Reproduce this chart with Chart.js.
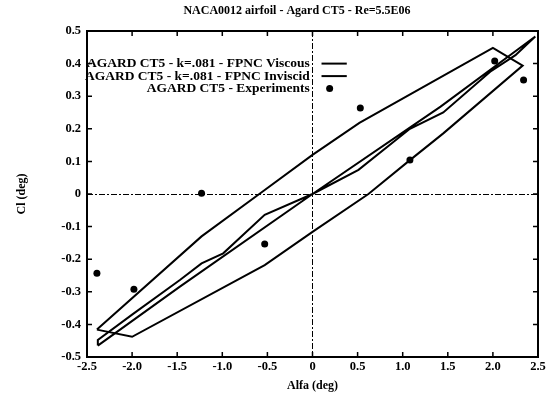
<!DOCTYPE html>
<html>
<head>
<meta charset="utf-8">
<title>NACA0012 airfoil - Agard CT5</title>
<script src="https://cdn.jsdelivr.net/npm/chart.js@4.4.1/dist/chart.umd.min.js"></script>
<style>
  html, body { margin: 0; padding: 0; background: #fff; }
  #wrap { width: 549px; height: 398px; position: relative; }
</style>
</head>
<body>
<div id="wrap"><canvas id="myCanvas"></canvas></div>
<script>
'use strict';

//Values, one closed loop per FPNC run
let viscousAlfa = [-2.39, -1.23, -0.59, 0, 0.52, 2.0, 2.33, 1.45, 1.08, 0.62, 0, -0.53, -2.0, -2.39];
let viscousCl = [-0.416, -0.13, 0.0, 0.12, 0.218, 0.448, 0.394, 0.186, 0.104, 0.0, -0.116, -0.218, -0.438, -0.416];

let inviscidAlfa = [-2.38, -1.47, 0, 1.42, 2.47, 2.25, 1.97, 1.45, 1.08, 0.51, 0, -0.53, -0.99, -1.23, -1.47, -2.0, -2.38, -2.38];
let inviscidCl = [-0.465, -0.284, 0, 0.268, 0.483, 0.426, 0.375, 0.25, 0.2, 0.074, 0, -0.064, -0.182, -0.213, -0.264, -0.37, -0.448, -0.465];

let expAlfa = [-2.39, -1.98, -1.23, -0.53, 0.53, 1.08, 2.02, 2.34];
let expCl = [-0.243, -0.292, 0.002, -0.153, 0.264, 0.104, 0.408, 0.35];

let seriesNames = ['AGARD CT5 - k=.081 - FPNC Viscous', 'AGARD CT5 - k=.081 - FPNC Inviscid', 'AGARD CT5 - Experiments'];
let chartTitle = 'NACA0012 airfoil - Agard CT5 - Re=5.5E06';
let xTitle = 'Alfa (deg)';
let yTitle = 'Cl (deg)';
let xMin = -2.5, xMax = 2.5, xStep = 0.5;
let yMin = -0.5, yMax = 0.5, yStep = 0.1;

const serif = '"Liberation Serif", "DejaVu Serif", serif';

//zip two arrays into {x, y} points for the scatter datasets
function toPoints(xs, ys) {
  let pts = [];
  for (let i = 0; i < xs.length; i++) {
    pts.push({x: xs[i], y: ys[i]});
  }
  return pts;
}

//Frame, inward ticks on all four sides, the title and the legend inside the plot
const decorPlugin = {
  id: 'decor',
  afterDraw(chart) {
    const ctx = chart.ctx;
    const a = chart.chartArea;
    const xs = chart.scales.x;
    const ys = chart.scales.y;
    ctx.save();
    ctx.strokeStyle = '#000';
    ctx.lineWidth = 2;
    ctx.strokeRect(a.left, a.top, a.right - a.left, a.bottom - a.top);

    ctx.lineWidth = 1.5;
    ctx.beginPath();
    xs.ticks.forEach(t => {
      let px = xs.getPixelForValue(t.value);
      ctx.moveTo(px, a.bottom); ctx.lineTo(px, a.bottom - 5);
      ctx.moveTo(px, a.top); ctx.lineTo(px, a.top + 5);
    });
    ys.ticks.forEach(t => {
      let py = ys.getPixelForValue(t.value);
      ctx.moveTo(a.left, py); ctx.lineTo(a.left + 5, py);
      ctx.moveTo(a.right, py); ctx.lineTo(a.right - 5, py);
    });
    ctx.stroke();

    //title sits a bit left of the plot centre in the original
    ctx.fillStyle = '#000';
    ctx.font = 'bold 12px ' + serif;
    ctx.textAlign = 'center';
    ctx.textBaseline = 'middle';
    ctx.fillText(chartTitle, 297, 11);

    //legend: text right aligned, sample to its right
    let textRight = xs.getPixelForValue(-0.03);
    let sampleLeft = xs.getPixelForValue(0.1);
    let sampleRight = xs.getPixelForValue(0.38);
    ctx.font = 'bold 13.5px ' + serif;
    ctx.textAlign = 'right';
    chart.data.datasets.forEach((ds, i) => {
      let rowY = ys.getPixelForValue(0.4) + i * 12.5;
      ctx.fillText(ds.label, textRight, rowY);
      if (ds.showLine) {
        ctx.lineWidth = 2;
        ctx.beginPath();
        ctx.moveTo(sampleLeft, rowY);
        ctx.lineTo(sampleRight, rowY);
        ctx.stroke();
      } else {
        ctx.beginPath();
        ctx.arc(xs.getPixelForValue(0.19), rowY, 3.5, 0, Math.PI * 2);
        ctx.fill();
      }
    });
    ctx.restore();
  }
};

function renderChart() {
  const data = {
    datasets: [{
      label: seriesNames[0],
      data: toPoints(viscousAlfa, viscousCl),
      showLine: true,
      borderColor: '#000',
      borderWidth: 2,
      pointRadius: 0,
      tension: 0
    },
    {
      label: seriesNames[1],
      data: toPoints(inviscidAlfa, inviscidCl),
      showLine: true,
      borderColor: '#000',
      borderWidth: 2,
      pointRadius: 0,
      tension: 0
    },
    {
      label: seriesNames[2],
      data: toPoints(expAlfa, expCl),
      showLine: false,
      backgroundColor: '#000',
      borderColor: '#000',
      pointRadius: 3.5,
      pointBorderWidth: 0
    }]
  };

  //only the zero line of each axis is drawn, dash-dot like the original
  const zeroGrid = {
    drawTicks: false,
    lineWidth: 1,
    color: c => (c.tick && Math.abs(c.tick.value) < 1e-9 ? '#000' : 'rgba(0,0,0,0)')
  };

  const config = {
    type: 'scatter',
    data: data,
    options: {
      responsive: false,
      animation: false,
      layout: {
        padding: {top: 31, right: 11, left: 0, bottom: 0}
      },
      plugins: {
        legend: {display: false},
        title: {display: false},
        tooltip: {enabled: false}
      },
      scales: {
        x: {
          type: 'linear',
          min: xMin,
          max: xMax,
          afterFit: s => { s.height = 41; },
          ticks: {
            stepSize: xStep,
            color: '#000',
            padding: 2,
            maxRotation: 0,
            font: {family: serif, size: 12.5, weight: 'bold'}
          },
          grid: zeroGrid,
          border: {display: false, dash: [6, 2, 2, 2]},
          title: {
            display: true,
            text: xTitle,
            color: '#000',
            padding: {top: 0, bottom: 5},
            font: {family: serif, size: 12, weight: 'bold'}
          }
        },
        y: {
          type: 'linear',
          min: yMin,
          max: yMax,
          afterFit: s => { s.width = 87; },
          ticks: {
            stepSize: yStep,
            color: '#000',
            padding: 6,
            font: {family: serif, size: 12.5, weight: 'bold'}
          },
          grid: zeroGrid,
          border: {display: false, dash: [6, 2, 2, 2]},
          title: {
            display: true,
            text: yTitle,
            color: '#000',
            padding: {top: 15, bottom: 0},
            font: {family: serif, size: 12, weight: 'bold'}
          }
        }
      }
    },
    plugins: [decorPlugin]
  };
  const myChart = new Chart(document.getElementById('myCanvas'), config);
}

const canvas = document.getElementById('myCanvas');
canvas.width = 549;
canvas.height = 398;
renderChart();
</script>
</body>
</html>
